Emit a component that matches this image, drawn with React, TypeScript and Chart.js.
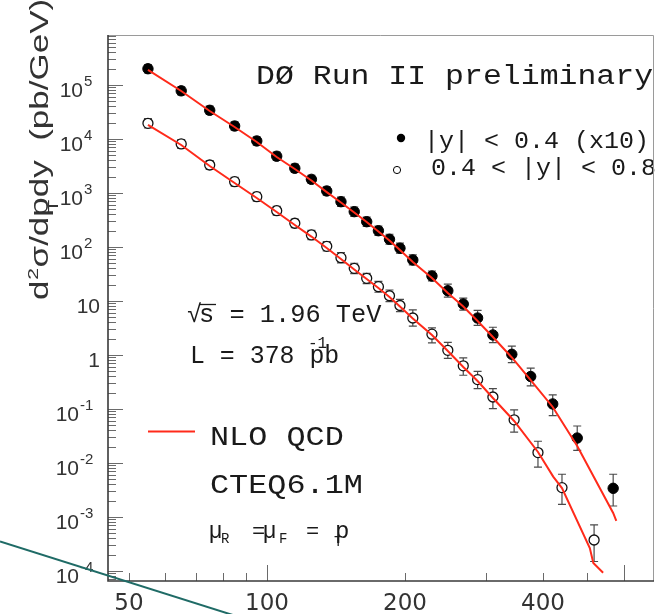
import React, { useEffect, useRef } from "react";
import { Chart, registerables } from "chart.js";

Chart.register(...registerables);

// ---------- data: |y| < 0.4 (x10), filled circles ----------
const ptCentral = [55, 65, 75, 85, 95, 105, 115, 125, 135, 145, 155, 165, 175, 185, 195, 208, 229, 248, 268, 288, 311, 342, 376, 420, 475, 569];
const xsecCentral = [2.0e5, 7.8e4, 3.4e4, 1.74e4, 9.2e3, 4.8e3, 2.87e3, 1.79e3, 1.09e3, 690, 451, 294, 200, 139, 95, 57.5, 29, 15.5, 8.8, 4.84, 2.35, 1.03, 0.4, 0.124, 0.029, 0.0034];
const errUpCentral = [0.19, 0.19, 0.19, 0.19, 0.19, 0.19, 0.19, 0.19, 0.19, 0.22, 0.22, 0.22, 0.22, 0.24, 0.24, 0.24, 0.24, 0.33, 0.29, 0.38, 0.39, 0.42, 0.43, 0.47, 0.67, 0.82];
const errDnCentral = [0.16, 0.16, 0.16, 0.16, 0.16, 0.16, 0.16, 0.16, 0.16, 0.18, 0.18, 0.18, 0.18, 0.19, 0.19, 0.19, 0.19, 0.24, 0.23, 0.27, 0.28, 0.3, 0.33, 0.39, 0.41, 0.53];

// ---------- data: 0.4 < |y| < 0.8, open circles ----------
const ptForward = [55, 65, 75, 85, 95, 105, 115, 125, 135, 145, 155, 165, 175, 185, 195, 208, 229, 248, 268, 288, 311, 346, 390, 440, 517];
const xsecForward = [1.95e4, 8.1e3, 3.3e3, 1.62e3, 854, 470, 275, 167, 103, 63.4, 40.3, 26.3, 18.4, 12.5, 8.26, 4.84, 2.43, 1.22, 0.63, 0.35, 0.167, 0.063, 0.0156, 0.0035, 3.75e-4];
const errUpForward = [0.22, 0.2, 0.2, 0.2, 0.2, 0.2, 0.2, 0.22, 0.22, 0.24, 0.24, 0.24, 0.26, 0.28, 0.3, 0.41, 0.31, 0.41, 0.41, 0.42, 0.43, 0.53, 0.62, 0.77, 0.9];
const errDnForward = [0.18, 0.17, 0.17, 0.17, 0.17, 0.17, 0.17, 0.18, 0.18, 0.2, 0.2, 0.2, 0.21, 0.22, 0.23, 0.29, 0.31, 0.29, 0.33, 0.32, 0.39, 0.41, 0.46, 0.51, 0.6];

// ---------- NLO QCD (CTEQ6.1M) curves ----------
const nloPtCentral = [55, 65, 75, 85, 95, 105, 115, 125, 135, 145, 155, 165, 175, 185, 195, 208, 229, 248, 268, 288, 311, 342, 376, 420, 475, 569, 578];
const nloCentral = [1.9e5, 7.74e4, 3.3e4, 1.67e4, 8.8e3, 4.64e3, 2.78e3, 1.7e3, 1.04e3, 667, 435, 290, 194, 132, 88, 52.7, 26.7, 14.1, 7.91, 4.26, 2.15, 0.9, 0.344, 0.109, 0.0206, 1.19e-3, 8.5e-4];
const nloPtForward = [55, 65, 75, 85, 95, 105, 115, 125, 135, 145, 155, 165, 175, 185, 195, 208, 229, 248, 268, 288, 311, 346, 390, 421, 440, 506, 515, 541];
const nloForward = [1.82e4, 7.74e3, 3.16e3, 1.53e3, 808, 445, 255, 156, 95.8, 60, 38.3, 25.5, 17.4, 11.9, 7.91, 4.74, 2.35, 1.19, 0.6, 0.33, 0.16, 0.06, 0.016, 5.6e-3, 3.44e-3, 2.67e-4, 1.41e-4, 9.3e-5];

// ---------- axes ----------
const xMin = 45;
const xMax = 695;
const yMin = 6.53e-5;
const yMax = 8.43e5;
const xTickValues = [50, 60, 70, 80, 90, 100, 200, 300, 400, 500, 600];
const xTickLong = [100, 600];
const xLabelValues = [50, 100, 200, 400];
const xLabelTexts = ["50", "100", "200", "400"];
const yTickValues = [1e5, 1e4, 1e3, 1e2, 10, 1, 1e-1, 1e-2, 1e-3, 1e-4];
const yTickBase = ["10", "10", "10", "10", "10", "1", "10", "10", "10", "10"];
const yTickExp = ["5", "4", "3", "2", "", "", "-1", "-2", "-3", "-4"];

const RED = "#ff2a1a";
const MONO = "'Liberation Mono', 'DejaVu Sans Mono', monospace";
const SANS = "'Liberation Sans', 'DejaVu Sans', sans-serif";

function txt(ctx: CanvasRenderingContext2D, s: string, x: number, y: number, font: string, sx = 1, align: CanvasTextAlign = "left", color = "#1a1a1a") {
  ctx.save();
  ctx.font = font;
  ctx.fillStyle = color;
  ctx.textAlign = align;
  ctx.textBaseline = "alphabetic";
  ctx.translate(x, y);
  ctx.scale(sx, 1);
  ctx.fillText(s, 0, 0);
  ctx.restore();
}

const errorBarPlugin = {
  id: "errorBars",
  beforeDatasetsDraw(chart: any) {
    const { ctx, chartArea, scales } = chart;
    const xs = scales.x;
    const ys = scales.y;
    ctx.save();
    ctx.beginPath();
    ctx.rect(chartArea.left, chartArea.top, chartArea.right - chartArea.left, chartArea.bottom - chartArea.top);
    ctx.clip();
    ctx.strokeStyle = "#4a4a4a";
    ctx.lineWidth = 1.2;
    const sets: [number[], number[], number[], number[]][] = [
      [ptCentral, xsecCentral, errUpCentral, errDnCentral],
      [ptForward, xsecForward, errUpForward, errDnForward],
    ];
    for (const [pts, vals, up, dn] of sets) {
      for (let i = 0; i < pts.length; i++) {
        const x = xs.getPixelForValue(pts[i]);
        const yTop = ys.getPixelForValue(vals[i] * (1 + up[i]));
        const yBot = ys.getPixelForValue(vals[i] * (1 - dn[i]));
        ctx.beginPath();
        ctx.moveTo(x, yTop);
        ctx.lineTo(x, yBot);
        ctx.moveTo(x - 4, yTop);
        ctx.lineTo(x + 4, yTop);
        ctx.moveTo(x - 4, yBot);
        ctx.lineTo(x + 4, yBot);
        ctx.stroke();
      }
    }
    ctx.restore();
  },
};

const decorPlugin = {
  id: "decor",
  afterDraw(chart: any) {
    const { ctx, chartArea, scales } = chart;
    const xs = scales.x;
    const ys = scales.y;
    const L = chartArea.left, R = chartArea.right, T = chartArea.top, B = chartArea.bottom;

    // ---- annotations ----
    txt(ctx, "D\u00D8 Run II preliminary", 256, 83.5, `27px ${MONO}`, 1.167);
    // legend
    ctx.save();
    ctx.fillStyle = "#000";
    ctx.beginPath();
    ctx.arc(401, 138, 4.2, 0, Math.PI * 2);
    ctx.fill();
    ctx.strokeStyle = "#000";
    ctx.lineWidth = 1;
    ctx.beginPath();
    ctx.arc(397, 170, 3.6, 0, Math.PI * 2);
    ctx.stroke();
    ctx.restore();
    txt(ctx, "|y| < 0.4 (x10)", 424, 147.5, `23px ${MONO}`, 1.087);
    txt(ctx, "0.4 < |y| < 0.8", 431, 175, `23px ${MONO}`, 1.087);

    txt(ctx, "\u221A", 187, 322, `25px ${MONO}`, 1);
    ctx.save();
    ctx.strokeStyle = "#1a1a1a";
    ctx.lineWidth = 1.3;
    ctx.beginPath();
    ctx.moveTo(199, 304.5);
    ctx.lineTo(216, 304.5);
    ctx.stroke();
    ctx.restore();
    txt(ctx, "s = 1.96 TeV", 199, 322, `25px ${MONO}`, 1.013);
    txt(ctx, "L = 378 pb", 190, 363, `25px ${MONO}`, 0.995);
    txt(ctx, "-1", 308, 348, `16px ${MONO}`, 1);

    ctx.save();
    ctx.strokeStyle = RED;
    ctx.lineWidth = 2;
    ctx.beginPath();
    ctx.moveTo(148, 431.5);
    ctx.lineTo(195, 431.5);
    ctx.stroke();
    ctx.restore();
    txt(ctx, "NLO QCD", 210, 445, `28px ${MONO}`, 1.137);
    txt(ctx, "CTEQ6.1M", 210, 493, `28px ${MONO}`, 1.137);
    txt(ctx, "\u03BC", 209, 538, `23px ${SANS}`);
    txt(ctx, "R", 221, 543, `14px ${MONO}`);
    txt(ctx, "=", 252, 538, `22px ${MONO}`);
    txt(ctx, "\u03BC", 263, 538, `23px ${SANS}`);
    txt(ctx, "F", 279, 543, `14px ${MONO}`);
    txt(ctx, "=", 306, 538, `22px ${MONO}`);
    txt(ctx, "p", 335, 538, `24px ${MONO}`);
    txt(ctx, "T", 334, 546, `14px ${MONO}`);

    // ---- ticks ----
    ctx.save();
    ctx.strokeStyle = "#6a6a6a";
    ctx.lineWidth = 1;
    ctx.beginPath();
    for (let k = -5; k <= 5; k++) {
      for (let m = 1; m <= 9; m++) {
        const v = m * Math.pow(10, k);
        if (v < yMin || v > yMax) continue;
        const y = Math.round(ys.getPixelForValue(v)) + 0.5;
        const len = m === 1 ? 15 : 8;
        ctx.moveTo(L, y);
        ctx.lineTo(L + len, y);
      }
    }
    for (const v of xTickValues) {
      const x = Math.round(xs.getPixelForValue(v)) + 0.5;
      const len = xTickLong.includes(v) ? 16 : 8;
      ctx.moveTo(x, B);
      ctx.lineTo(x, B - len);
    }
    ctx.stroke();
    ctx.restore();

    // ---- frame ----
    ctx.save();
    ctx.strokeStyle = "#9a9a9a";
    ctx.lineWidth = 1;
    ctx.beginPath();
    ctx.moveTo(L, T + 0.5);
    ctx.lineTo(R + 0.5, T + 0.5);
    ctx.lineTo(R + 0.5, B);
    ctx.stroke();
    ctx.strokeStyle = "#3a3a3a";
    ctx.lineWidth = 1.6;
    ctx.beginPath();
    ctx.moveTo(L, T);
    ctx.lineTo(L, B);
    ctx.lineTo(R + 1, B);
    ctx.stroke();
    ctx.restore();

    // ---- tick labels ----
    for (let i = 0; i < yTickValues.length; i++) {
      const y = ys.getPixelForValue(yTickValues[i]);
      const base = yTickBase[i];
      const ex = yTickExp[i];
      if (ex) {
        const right = ex.startsWith("-") ? 79 : 83;
        txt(ctx, base, right, y + 12, `21px ${SANS}`, 1, "right", "#333");
        txt(ctx, ex, right + 1, y + 1, `15px ${SANS}`, 1, "left", "#333");
      } else {
        txt(ctx, base, 100, y + 12, `21px ${SANS}`, 1, "right", "#333");
      }
    }
    for (let i = 0; i < xLabelValues.length; i++) {
      const x = xs.getPixelForValue(xLabelValues[i]);
      txt(ctx, xLabelTexts[i], x, 610, `23px 'DejaVu Sans', sans-serif`, 1, "center", "#333");
    }

    // ---- y-axis title ----
    ctx.save();
    ctx.translate(48, 300);
    ctx.rotate(-Math.PI / 2);
    ctx.scale(1.4, 1);
    ctx.fillStyle = "#333";
    ctx.textBaseline = "alphabetic";
    const big = `25px ${SANS}`;
    const small = `15px ${SANS}`;
    let u = 0;
    ctx.font = big;
    ctx.fillText("d", u, 0);
    u += ctx.measureText("d").width;
    ctx.font = small;
    ctx.fillText("2", u + 0.5, -10);
    u += ctx.measureText("2").width + 1;
    ctx.font = big;
    ctx.fillText("\u03C3/dp", u, 0);
    u += ctx.measureText("\u03C3/dp").width;
    ctx.font = small;
    ctx.fillText("T", u - 11, 10);
    ctx.font = big;
    ctx.fillText("dy", u, 0);
    u += ctx.measureText("dy").width;
    ctx.fillText("  (pb/GeV)", u, 0);
    ctx.restore();

    // ---- stray slide line ----
    ctx.save();
    ctx.strokeStyle = "#1f6b66";
    ctx.lineWidth = 2;
    ctx.beginPath();
    ctx.moveTo(0, 541.5);
    ctx.lineTo(236, 616);
    ctx.stroke();
    ctx.restore();
  },
};

export default function App() {
  const ref = useRef<HTMLCanvasElement | null>(null);

  useEffect(() => {
    if (!ref.current) return;
    const toPts = (xs: number[], ys: number[]) => xs.map((x, i) => ({ x, y: ys[i] }));
    const chart = new Chart(ref.current, {
      type: "scatter",
      data: {
        datasets: [
          {
            label: "NLO QCD |y|<0.4",
            data: toPts(nloPtCentral, nloCentral),
            showLine: true,
            borderColor: RED,
            borderWidth: 2,
            pointRadius: 0,
            tension: 0,
            order: 0,
          },
          {
            label: "NLO QCD 0.4<|y|<0.8",
            data: toPts(nloPtForward, nloForward),
            showLine: true,
            borderColor: RED,
            borderWidth: 2,
            pointRadius: 0,
            tension: 0,
            order: 0,
          },
          {
            label: "|y| < 0.4 (x10)",
            data: toPts(ptCentral, xsecCentral),
            pointRadius: 5.2,
            pointBackgroundColor: "#000",
            pointBorderColor: "#000",
            pointBorderWidth: 1,
            order: 1,
          },
          {
            label: "0.4 < |y| < 0.8",
            data: toPts(ptForward, xsecForward),
            pointRadius: 5,
            pointBackgroundColor: "#fff",
            pointBorderColor: "#111",
            pointBorderWidth: 1.3,
            order: 1,
          },
        ],
      },
      options: {
        animation: false,
        responsive: false,
        devicePixelRatio: 1,
        layout: { padding: { left: 108, right: 18, top: 35, bottom: 33 } },
        scales: {
          x: { type: "logarithmic", min: xMin, max: xMax, display: false },
          y: { type: "logarithmic", min: yMin, max: yMax, display: false },
        },
        plugins: {
          legend: { display: false },
          tooltip: { enabled: false },
        },
      },
      plugins: [errorBarPlugin, decorPlugin],
    });
    return () => chart.destroy();
  }, []);

  return (
    <div style={{ position: "fixed", left: 0, top: 0, width: 671, height: 614, background: "#fff" }}>
      <canvas ref={ref} width={671} height={614} style={{ display: "block" }} />
    </div>
  );
}
